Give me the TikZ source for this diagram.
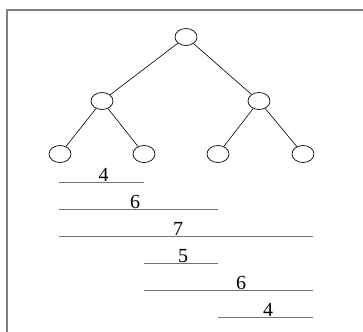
\documentclass[tikz,border=0pt]{standalone}
\usepackage{fontspec}
\setmainfont{Liberation Serif}
\usetikzlibrary{shapes.geometric}
\begin{document}
\begin{tikzpicture}[x=1pt,y=-1pt,
  treenode/.style={draw=black,ellipse,minimum width=22pt,minimum height=17pt,inner sep=0pt,line width=0.7pt},
  treeedge/.style={draw=black,line width=0.6pt},
  seg/.style={draw=black!55,line width=1pt},
  num/.style={anchor=base,inner sep=0pt,font=\fontsize{20}{22}\selectfont},
  framestyle/.style={draw=black!50,line width=1.5pt}]
\useasboundingbox (0,0) rectangle (363,331);
\begin{scope}
\clip (0,0) rectangle (363,331);
\draw[framestyle] (7,335) -- (7,10) -- (368,10);
\end{scope}
\node[treenode] (r) at (186,37) {};
\node[treenode] (a) at (102,101) {};
\node[treenode] (b) at (259,101) {};
\node[treenode] (a1) at (60,154) {};
\node[treenode] (a2) at (144,154) {};
\node[treenode] (b1) at (218,154) {};
\node[treenode] (b2) at (303,154) {};
\draw[treeedge] (r) -- (a);
\draw[treeedge] (r) -- (b);
\draw[treeedge] (a) -- (a1);
\draw[treeedge] (a) -- (a2);
\draw[treeedge] (b) -- (b1);
\draw[treeedge] (b) -- (b2);
\coordinate (s1a) at (59,182); \coordinate (s1b) at (144,182);
\coordinate (s2a) at (59,209); \coordinate (s2b) at (218,209);
\coordinate (s3a) at (59,236); \coordinate (s3b) at (313,236);
\coordinate (s4a) at (144,263); \coordinate (s4b) at (218,263);
\coordinate (s5a) at (144,290); \coordinate (s5b) at (313,290);
\coordinate (s6a) at (218,317); \coordinate (s6b) at (313,317);
\draw[seg] (s1a) -- (s1b);
\draw[seg] (s2a) -- (s2b);
\draw[seg] (s3a) -- (s3b);
\draw[seg] (s4a) -- (s4b);
\draw[seg] (s5a) -- (s5b);
\draw[seg] (s6a) -- (s6b);
\node[num] (t1) at (103.5,181) {4};
\node[num] (t2) at (135,208) {6};
\node[num] (t3) at (178,235) {7};
\node[num] (t4) at (183,262) {5};
\node[num] (t5) at (241,289) {6};
\node[num] (t6) at (268,316) {4};
\end{tikzpicture}
\end{document}
